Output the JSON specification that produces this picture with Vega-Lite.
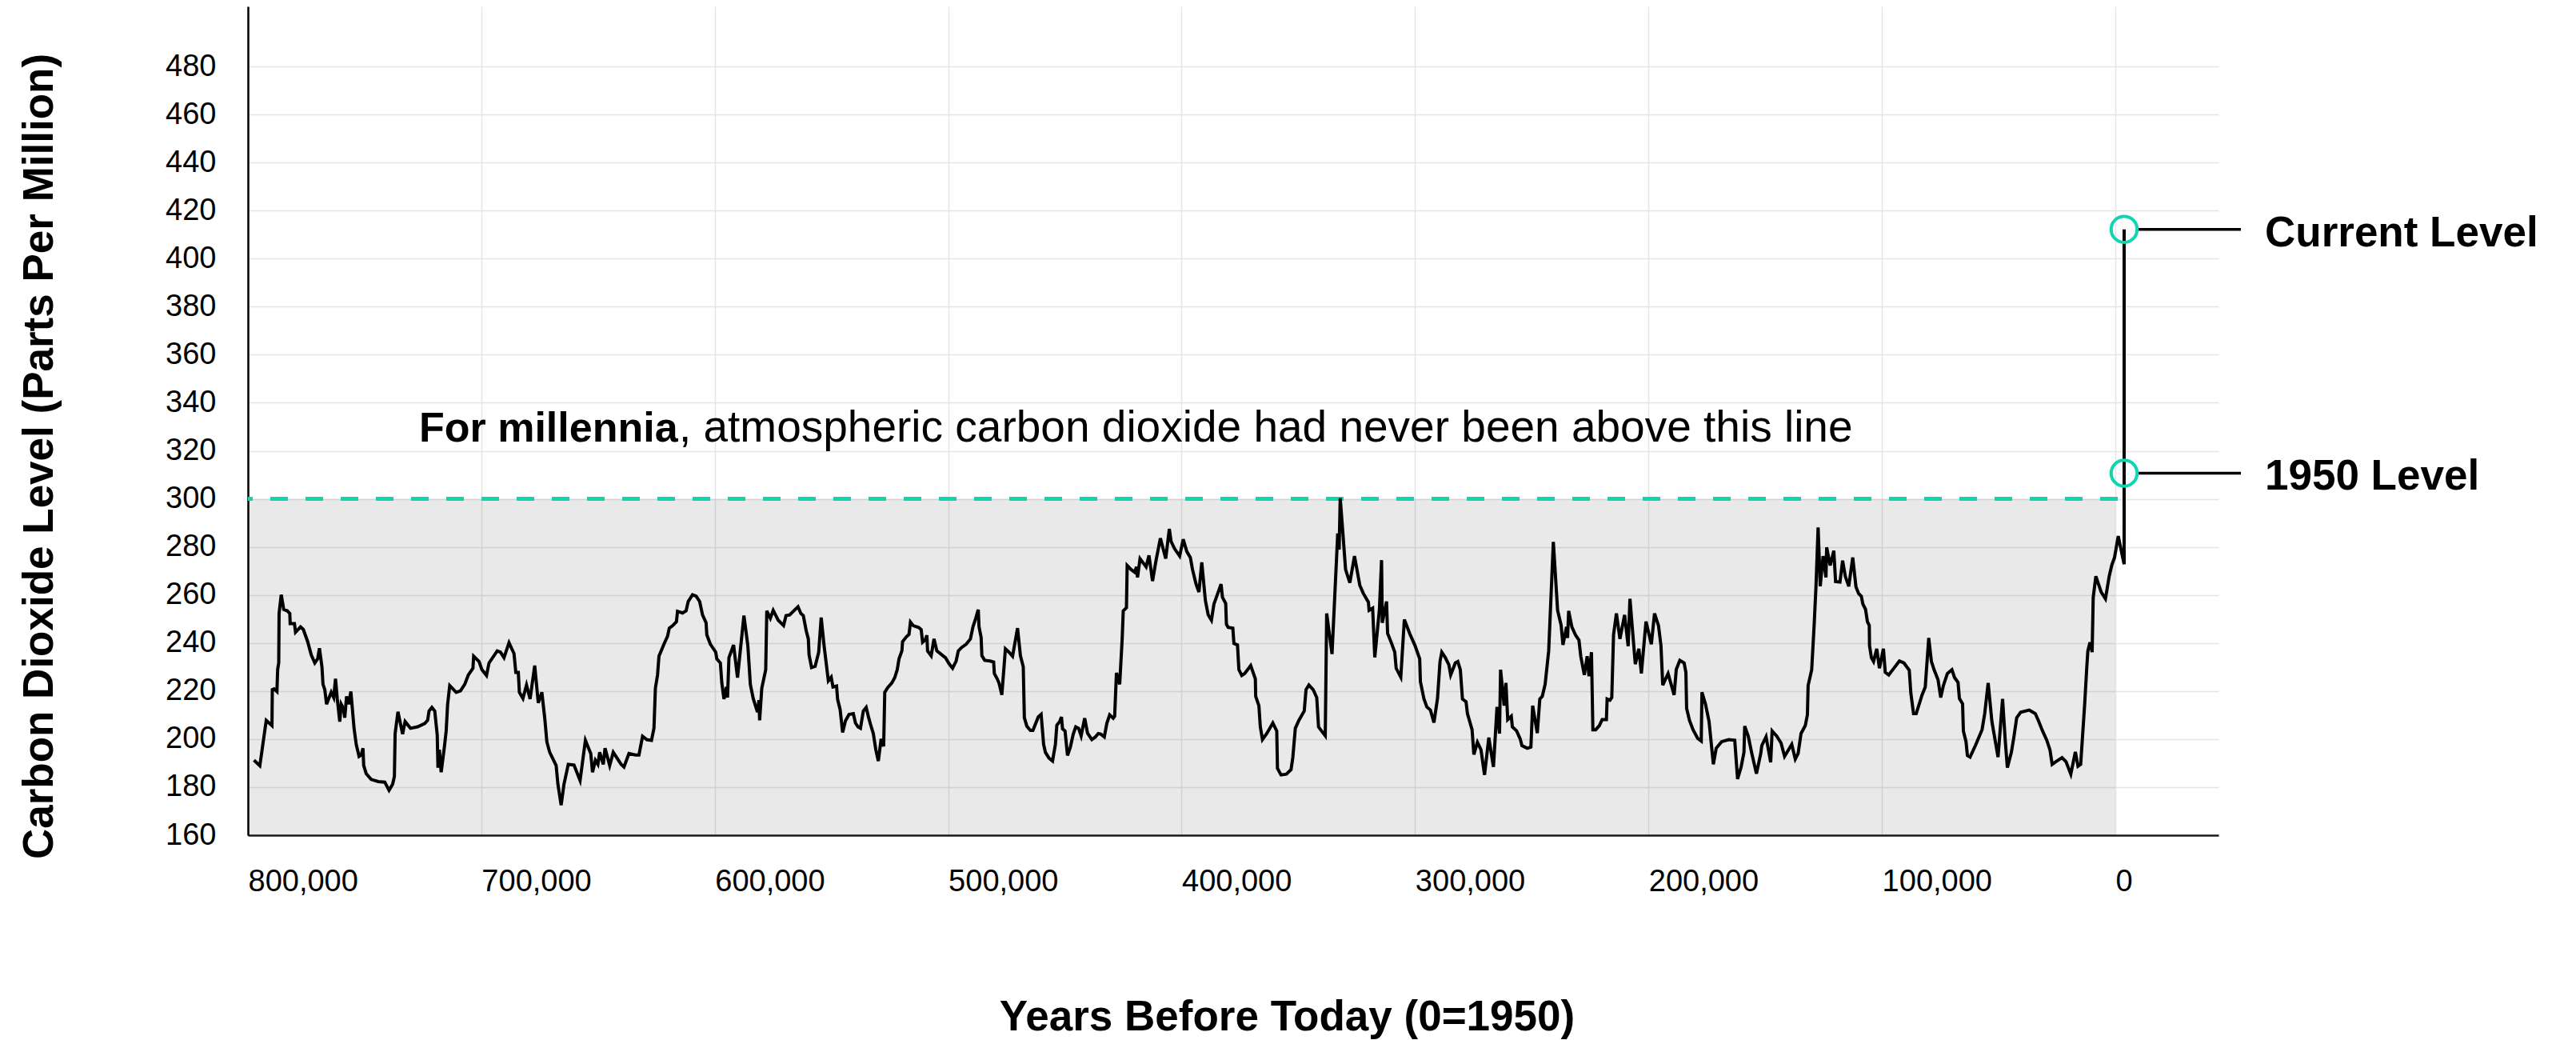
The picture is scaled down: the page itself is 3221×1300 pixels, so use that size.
{
  "$schema": "https://vega.github.io/schema/vega-lite/v6.json",
  "width": 2464,
  "height": 1036,
  "autosize": {"type": "none"},
  "padding": {"left": 310, "top": 8, "right": 447, "bottom": 256},
  "background": "white",
  "config": {"view": {"stroke": null}, "font": "Liberation Sans"},
  "datasets": {
    "ice_core": [
      {"year":797400,"ppm":191.2},{"year":794900,"ppm":188.9},{"year":792150,"ppm":207.8},{"year":789700,"ppm":205.6},{"year":789550,"ppm":220.6},{"year":788790,"ppm":220.9},{"year":787570,"ppm":219.8},{"year":787260,"ppm":229.0},{"year":786800,"ppm":231.7},{"year":786650,"ppm":252.3},{"year":785730,"ppm":260.1},{"year":784660,"ppm":254.0},{"year":783130,"ppm":253.4},{"year":782060,"ppm":252.3},{"year":781900,"ppm":248.1},{"year":780070,"ppm":248.1},{"year":779610,"ppm":244.5},{"year":777470,"ppm":246.7},{"year":776250,"ppm":245.6},{"year":774410,"ppm":240.6},{"year":772880,"ppm":235.1},{"year":771350,"ppm":231.7},{"year":770130,"ppm":233.4},{"year":769360,"ppm":237.8},{"year":768290,"ppm":230.1},{"year":767840,"ppm":222.8},{"year":767070,"ppm":220.6},{"year":766310,"ppm":214.5},{"year":764320,"ppm":219.5},{"year":763250,"ppm":217.3},{"year":762480,"ppm":225.1},{"year":761720,"ppm":216.7},{"year":760650,"ppm":207.3},{"year":760030,"ppm":214.5},{"year":759120,"ppm":212.8},{"year":758510,"ppm":208.9},{"year":757740,"ppm":217.8},{"year":756820,"ppm":214.5},{"year":755900,"ppm":219.8},{"year":754530,"ppm":204.5},{"year":753610,"ppm":197.8},{"year":752390,"ppm":192.8},{"year":751470,"ppm":193.4},{"year":750710,"ppm":196.2},{"year":750400,"ppm":189.0},{"year":749330,"ppm":185.6},{"year":747190,"ppm":183.2},{"year":744130,"ppm":182.3},{"year":741370,"ppm":182.1},{"year":739540,"ppm":178.7},{"year":738010,"ppm":181.2},{"year":737250,"ppm":184.5},{"year":736940,"ppm":202.3},{"year":735720,"ppm":211.4},{"year":733730,"ppm":202.1},{"year":732660,"ppm":207.3},{"year":730360,"ppm":204.5},{"year":727300,"ppm":205.1},{"year":724240,"ppm":206.5},{"year":723020,"ppm":207.8},{"year":722410,"ppm":211.7},{"year":721190,"ppm":213.2},{"year":719960,"ppm":211.7},{"year":718900,"ppm":201.7},{"year":718590,"ppm":188.1},{"year":717970,"ppm":195.6},{"year":717210,"ppm":186.2},{"year":715830,"ppm":196.7},{"year":715070,"ppm":203.4},{"year":714450,"ppm":214.5},{"year":713540,"ppm":222.3},{"year":710780,"ppm":219.5},{"year":708950,"ppm":220.1},{"year":707110,"ppm":222.8},{"year":705580,"ppm":226.7},{"year":703600,"ppm":229.5},{"year":703290,"ppm":234.5},{"year":701000,"ppm":232.3},{"year":699770,"ppm":228.9},{"year":697790,"ppm":226.5},{"year":696710,"ppm":231.7},{"year":693200,"ppm":236.7},{"year":691820,"ppm":236.2},{"year":690290,"ppm":233.9},{"year":688150,"ppm":240.1},{"year":686010,"ppm":235.6},{"year":685240,"ppm":227.8},{"year":684170,"ppm":227.8},{"year":683710,"ppm":219.5},{"year":682180,"ppm":216.9},{"year":680650,"ppm":222.5},{"year":679120,"ppm":216.7},{"year":677140,"ppm":230.6},{"year":675610,"ppm":215.1},{"year":674080,"ppm":219.5},{"year":672860,"ppm":208.9},{"year":671940,"ppm":198.9},{"year":670720,"ppm":194.5},{"year":667960,"ppm":189.0},{"year":667200,"ppm":181.2},{"year":665820,"ppm":172.5},{"year":664600,"ppm":181.2},{"year":662760,"ppm":189.5},{"year":660310,"ppm":189.2},{"year":657710,"ppm":182.8},{"year":655420,"ppm":199.5},{"year":653130,"ppm":194.0},{"year":652360,"ppm":186.2},{"year":651140,"ppm":191.2},{"year":650070,"ppm":189.5},{"year":649300,"ppm":194.5},{"year":647770,"ppm":189.5},{"year":647010,"ppm":196.2},{"year":645020,"ppm":189.0},{"year":643490,"ppm":194.5},{"year":640120,"ppm":189.5},{"year":638900,"ppm":188.4},{"year":636760,"ppm":194.0},{"year":634000,"ppm":193.4},{"year":632480,"ppm":193.4},{"year":630940,"ppm":201.2},{"year":629110,"ppm":199.8},{"year":627120,"ppm":199.5},{"year":626050,"ppm":204.5},{"year":625440,"ppm":221.2},{"year":624520,"ppm":226.7},{"year":623910,"ppm":234.5},{"year":621770,"ppm":239.5},{"year":620240,"ppm":242.8},{"year":619470,"ppm":246.2},{"year":617940,"ppm":247.3},{"year":616420,"ppm":248.9},{"year":615960,"ppm":253.2},{"year":613820,"ppm":252.5},{"year":612290,"ppm":253.4},{"year":611370,"ppm":257.3},{"year":609540,"ppm":260.1},{"year":608000,"ppm":259.5},{"year":606480,"ppm":257.3},{"year":605250,"ppm":251.7},{"year":603720,"ppm":248.4},{"year":603410,"ppm":243.4},{"year":601880,"ppm":239.5},{"year":599590,"ppm":236.2},{"year":599130,"ppm":233.4},{"year":597600,"ppm":231.7},{"year":596990,"ppm":223.4},{"year":596070,"ppm":216.7},{"year":595000,"ppm":221.7},{"year":594540,"ppm":217.3},{"year":593930,"ppm":233.9},{"year":591940,"ppm":239.2},{"year":590260,"ppm":225.6},{"year":587510,"ppm":251.4},{"year":585830,"ppm":238.9},{"year":584760,"ppm":222.8},{"year":583530,"ppm":216.9},{"year":581700,"ppm":211.2},{"year":581080,"ppm":216.2},{"year":580780,"ppm":207.8},{"year":579860,"ppm":221.2},{"year":578180,"ppm":228.9},{"year":577720,"ppm":253.4},{"year":576190,"ppm":250.3},{"year":574970,"ppm":253.6},{"year":572830,"ppm":249.5},{"year":570530,"ppm":247.3},{"year":569460,"ppm":251.4},{"year":567930,"ppm":251.7},
      {"year":564350,"ppm":255.1},{"year":563130,"ppm":252.3},{"year":562060,"ppm":251.4},{"year":560830,"ppm":245.1},{"year":559920,"ppm":241.7},{"year":559610,"ppm":235.1},{"year":558540,"ppm":229.8},{"year":557010,"ppm":230.3},{"year":555480,"ppm":236.2},{"year":554410,"ppm":250.6},{"year":553190,"ppm":239.0},{"year":551350,"ppm":224.3},{"year":550130,"ppm":225.8},{"year":549360,"ppm":221.7},{"year":547830,"ppm":222.1},{"year":547370,"ppm":216.5},{"year":546300,"ppm":212.3},{"year":545230,"ppm":202.8},{"year":544010,"ppm":207.6},{"year":542480,"ppm":210.3},{"year":540650,"ppm":210.6},{"year":539730,"ppm":206.7},{"year":538660,"ppm":205.1},{"year":537590,"ppm":204.5},{"year":536360,"ppm":211.7},{"year":535140,"ppm":213.2},{"year":534070,"ppm":208.9},{"year":533300,"ppm":206.2},{"year":532080,"ppm":202.3},{"year":531010,"ppm":195.6},{"year":529940,"ppm":190.9},{"year":528720,"ppm":200.1},{"year":527650,"ppm":197.0},{"year":527180,"ppm":219.5},{"year":525960,"ppm":221.4},{"year":524130,"ppm":223.4},{"year":522900,"ppm":225.6},{"year":521830,"ppm":228.9},{"year":521070,"ppm":233.4},{"year":519840,"ppm":236.7},{"year":519540,"ppm":240.6},{"year":518010,"ppm":242.5},{"year":516790,"ppm":243.6},{"year":516170,"ppm":248.7},{"year":514950,"ppm":247.2},{"year":512660,"ppm":246.5},{"year":511580,"ppm":245.6},{"year":510970,"ppm":240.3},{"year":509900,"ppm":241.2},{"year":509140,"ppm":243.2},{"year":508830,"ppm":236.7},{"year":507300,"ppm":234.7},{"year":506080,"ppm":241.7},{"year":504860,"ppm":236.7},{"year":503020,"ppm":235.3},{"year":501180,"ppm":233.9},{"year":499660,"ppm":231.4},{"year":498130,"ppm":229.5},{"year":496600,"ppm":232.5},{"year":495680,"ppm":236.7},{"year":494300,"ppm":238.1},{"year":492310,"ppm":239.5},{"year":490480,"ppm":241.7},{"year":489410,"ppm":246.7},{"year":488190,"ppm":250.3},{"year":487120,"ppm":253.9},{"year":486810,"ppm":246.9},{"year":485890,"ppm":242.3},{"year":485580,"ppm":234.7},{"year":484360,"ppm":232.8},{"year":482070,"ppm":232.5},{"year":480540,"ppm":232.1},{"year":480230,"ppm":227.3},{"year":479010,"ppm":225.1},{"year":478250,"ppm":223.4},{"year":477020,"ppm":218.4},{"year":475490,"ppm":237.6},{"year":473960,"ppm":236.2},{"year":472430,"ppm":234.5},{"year":470290,"ppm":246.2},{"year":469060,"ppm":234.7},{"year":467840,"ppm":230.1},{"year":467380,"ppm":208.9},{"year":466310,"ppm":205.4},{"year":464780,"ppm":203.6},{"year":463710,"ppm":203.6},{"year":461420,"ppm":209.2},{"year":460190,"ppm":210.3},{"year":459120,"ppm":197.8},{"year":458360,"ppm":194.5},{"year":456830,"ppm":192.1},{"year":455300,"ppm":190.9},{"year":454080,"ppm":197.8},{"year":453460,"ppm":205.8},{"year":452240,"ppm":207.3},{"year":451480,"ppm":209.2},{"year":451020,"ppm":204.3},{"year":449950,"ppm":203.4},{"year":448880,"ppm":193.2},{"year":447650,"ppm":196.7},{"year":446430,"ppm":202.1},{"year":445360,"ppm":205.1},{"year":444130,"ppm":204.5},{"year":443060,"ppm":201.4},{"year":441530,"ppm":208.7},{"year":440310,"ppm":202.5},{"year":438470,"ppm":199.8},{"year":436940,"ppm":200.9},{"year":435720,"ppm":202.3},{"year":434650,"ppm":202.1},{"year":433120,"ppm":200.9},{"year":432050,"ppm":206.5},{"year":430830,"ppm":210.1},{"year":429300,"ppm":208.7},{"year":428690,"ppm":209.5},{"year":427920,"ppm":227.6},{"year":426540,"ppm":222.8},{"year":425470,"ppm":241.7},{"year":425010,"ppm":253.4},{"year":423640,"ppm":254.7},{"year":423330,"ppm":272.3},{"year":421650,"ppm":270.6},{"year":420120,"ppm":269.5},{"year":419350,"ppm":271.7},{"year":418890,"ppm":267.3},{"year":417820,"ppm":275.1},{"year":415830,"ppm":272.5},{"year":415220,"ppm":271.7},{"year":413990,"ppm":276.5},{"year":412470,"ppm":265.8},{"year":410940,"ppm":274.5},{"year":409100,"ppm":283.6},{"year":406810,"ppm":275.1},{"year":405280,"ppm":287.5},{"year":404520,"ppm":282.3},{"year":402990,"ppm":279.2},{"year":400850,"ppm":276.2},{"year":399320,"ppm":283.2},{"year":397790,"ppm":278.1},{"year":396260,"ppm":275.6},{"year":395340,"ppm":270.6},{"year":393810,"ppm":264.5},{"year":392590,"ppm":261.2},{"year":391370,"ppm":273.6},{"year":389840,"ppm":257.8},{"year":388620,"ppm":251.7},{"year":387240,"ppm":249.5},{"year":386170,"ppm":256.2},{"year":383110,"ppm":264.5},{"year":382500,"ppm":259.0},{"year":381120,"ppm":256.5},{"year":380810,"ppm":247.8},{"year":380050,"ppm":246.5},{"year":378060,"ppm":246.2},{"year":377600,"ppm":239.8},{"year":376070,"ppm":239.2},{"year":375460,"ppm":228.9},{"year":374240,"ppm":226.5},{"year":373010,"ppm":227.3},{"year":370410,"ppm":230.6},{"year":368420,"ppm":225.1},{"year":368270,"ppm":217.8},{"year":366900,"ppm":213.9},{"year":366290,"ppm":205.1},{"year":365370,"ppm":199.8},{"year":363530,"ppm":202.3},{"year":360930,"ppm":206.7},{"year":359250,"ppm":203.4},{"year":358940,"ppm":187.8},{"year":357410,"ppm":185.1},{"year":355120,"ppm":185.4},{"year":353130,"ppm":187.3},{"year":352370,"ppm":192.3},{"year":351290,"ppm":204.5},{"year":349770,"ppm":207.8},{"year":347470,"ppm":211.7},{"year":346710,"ppm":220.6},{"year":345490,"ppm":222.5},{"year":343650,"ppm":220.6},{"year":342120,"ppm":217.3},{"year":341350,"ppm":205.1},
      {"year":340460,"ppm":203.9},{"year":338470,"ppm":201.4},{"year":337860,"ppm":252.3},{"year":335570,"ppm":235.4},{"year":333130,"ppm":285.6},{"year":332520,"ppm":278.9},{"year":332060,"ppm":300.3},{"year":330990,"ppm":286.7},{"year":329770,"ppm":270.6},{"year":327940,"ppm":265.1},{"year":325950,"ppm":276.2},{"year":323660,"ppm":264.0},{"year":322140,"ppm":260.6},{"year":319990,"ppm":257.0},{"year":319690,"ppm":253.6},{"year":318170,"ppm":254.5},{"year":317250,"ppm":234.0},{"year":315270,"ppm":254.0},{"year":314350,"ppm":274.5},{"year":314050,"ppm":248.4},{"year":312210,"ppm":257.3},{"year":311760,"ppm":244.0},{"year":310230,"ppm":240.3},{"year":308700,"ppm":236.2},{"year":308090,"ppm":229.5},{"year":306110,"ppm":225.8},{"year":304580,"ppm":249.8},{"year":302290,"ppm":243.9},{"year":300000,"ppm":238.9},{"year":298010,"ppm":233.4},{"year":297710,"ppm":223.9},{"year":296180,"ppm":216.7},{"year":294960,"ppm":213.4},{"year":293430,"ppm":212.1},{"year":291910,"ppm":206.9},{"year":290380,"ppm":216.9},{"year":289310,"ppm":232.3},{"year":288550,"ppm":236.2},{"year":287020,"ppm":233.9},{"year":285500,"ppm":230.9},{"year":284730,"ppm":226.7},{"year":282750,"ppm":231.7},{"year":281680,"ppm":232.3},{"year":280610,"ppm":228.9},{"year":279690,"ppm":216.7},{"year":278170,"ppm":215.6},{"year":277550,"ppm":210.6},{"year":275570,"ppm":203.9},{"year":274810,"ppm":193.6},{"year":273280,"ppm":198.7},{"year":271760,"ppm":195.6},{"year":270230,"ppm":185.1},{"year":268400,"ppm":200.6},{"year":266410,"ppm":188.4},{"year":264890,"ppm":213.4},{"year":263820,"ppm":202.3},{"year":263360,"ppm":228.9},{"year":261830,"ppm":213.9},{"year":261070,"ppm":223.4},{"year":260300,"ppm":208.1},{"year":258780,"ppm":209.5},{"year":258320,"ppm":205.1},{"year":256490,"ppm":203.4},{"year":254960,"ppm":200.1},{"year":254200,"ppm":197.3},{"year":251910,"ppm":196.2},{"year":250380,"ppm":196.7},{"year":249620,"ppm":213.9},{"year":247630,"ppm":202.5},{"year":246560,"ppm":216.7},{"year":245500,"ppm":217.8},{"year":244280,"ppm":222.8},{"year":242750,"ppm":236.7},{"year":240760,"ppm":282.1},{"year":238930,"ppm":253.6},{"year":237410,"ppm":247.3},{"year":236640,"ppm":239.2},{"year":235110,"ppm":246.7},{"year":234660,"ppm":242.1},{"year":234200,"ppm":253.4},{"year":232830,"ppm":246.7},{"year":231300,"ppm":243.4},{"year":229780,"ppm":241.2},{"year":229010,"ppm":234.5},{"year":227490,"ppm":226.7},{"year":226270,"ppm":234.5},{"year":225500,"ppm":226.2},{"year":224430,"ppm":236.2},{"year":223820,"ppm":203.9},{"year":222600,"ppm":203.9},{"year":221070,"ppm":205.6},{"year":219850,"ppm":208.1},{"year":218020,"ppm":208.1},{"year":217710,"ppm":216.7},{"year":216490,"ppm":216.2},{"year":215730,"ppm":217.3},{"year":214970,"ppm":243.4},{"year":213740,"ppm":252.3},{"year":212220,"ppm":241.7},{"year":210230,"ppm":251.7},{"year":208700,"ppm":238.7},{"year":207940,"ppm":258.4},{"year":205650,"ppm":231.2},{"year":204120,"ppm":237.6},{"year":203050,"ppm":227.3},{"year":201070,"ppm":248.9},{"year":198780,"ppm":239.5},{"year":197400,"ppm":252.3},{"year":195720,"ppm":247.3},{"year":194650,"ppm":238.9},{"year":193890,"ppm":222.5},{"year":191600,"ppm":227.3},{"year":189010,"ppm":218.4},{"year":188090,"ppm":229.0},{"year":186560,"ppm":232.8},{"year":184730,"ppm":231.7},{"year":183970,"ppm":227.8},{"year":183660,"ppm":212.8},{"year":182440,"ppm":207.8},{"year":180910,"ppm":203.9},{"year":178930,"ppm":200.3},{"year":177400,"ppm":199.2},{"year":177100,"ppm":219.5},{"year":175570,"ppm":214.5},{"year":174040,"ppm":207.3},{"year":172210,"ppm":189.5},{"year":170990,"ppm":196.2},{"year":168700,"ppm":198.9},{"year":165650,"ppm":199.8},{"year":163050,"ppm":199.5},{"year":161830,"ppm":183.4},{"year":160310,"ppm":188.4},{"year":159090,"ppm":194.5},{"year":158780,"ppm":205.4},{"year":157260,"ppm":201.2},{"year":155730,"ppm":194.0},{"year":153750,"ppm":185.6},{"year":151910,"ppm":194.0},{"year":151460,"ppm":197.3},{"year":149630,"ppm":201.0},{"year":147650,"ppm":190.3},{"year":147030,"ppm":203.4},{"year":145040,"ppm":201.2},{"year":143210,"ppm":198.4},{"year":141690,"ppm":192.8},{"year":138630,"ppm":197.8},{"year":137110,"ppm":191.7},{"year":135890,"ppm":194.0},{"year":134660,"ppm":202.3},{"year":132830,"ppm":205.6},{"year":131920,"ppm":210.1},{"year":131610,"ppm":222.3},{"year":130080,"ppm":228.9},{"year":129010,"ppm":247.8},{"year":128250,"ppm":263.4},{"year":127330,"ppm":288.1},{"year":126420,"ppm":263.6},{"year":125200,"ppm":276.2},{"year":123970,"ppm":267.3},{"year":123670,"ppm":279.8},{"year":122140,"ppm":272.3},{"year":120610,"ppm":278.4},{"year":119850,"ppm":265.6},
      {"year":117970,"ppm":265.4},{"year":116830,"ppm":274.3},{"year":115690,"ppm":267.8},{"year":114200,"ppm":263.6},{"year":112490,"ppm":275.6},{"year":111120,"ppm":263.4},{"year":109980,"ppm":260.6},{"year":108830,"ppm":259.5},{"year":108150,"ppm":256.2},{"year":107010,"ppm":254.0},{"year":106210,"ppm":248.9},{"year":105410,"ppm":247.3},{"year":105300,"ppm":238.9},{"year":104500,"ppm":233.9},{"year":103580,"ppm":232.3},{"year":102210,"ppm":237.6},{"year":101070,"ppm":229.5},{"year":99360,"ppm":237.6},{"year":98560,"ppm":227.8},{"year":97070,"ppm":226.7},{"year":95360,"ppm":228.9},{"year":92500,"ppm":232.5},{"year":90560,"ppm":231.7},{"year":88280,"ppm":228.7},{"year":87590,"ppm":219.0},{"year":86450,"ppm":210.6},{"year":85310,"ppm":210.6},{"year":82800,"ppm":218.4},{"year":81430,"ppm":221.7},{"year":79940,"ppm":242.1},{"year":78800,"ppm":232.3},{"year":77660,"ppm":228.9},{"year":75950,"ppm":224.7},{"year":74800,"ppm":217.3},{"year":73660,"ppm":222.3},{"year":71950,"ppm":227.3},{"year":70010,"ppm":228.9},{"year":68870,"ppm":225.6},{"year":67380,"ppm":223.6},{"year":66810,"ppm":216.9},{"year":65440,"ppm":214.7},{"year":65100,"ppm":203.4},{"year":63960,"ppm":198.9},{"year":63380,"ppm":193.2},{"year":62240,"ppm":192.5},{"year":59960,"ppm":197.3},{"year":57100,"ppm":203.9},{"year":55960,"ppm":210.6},{"year":54480,"ppm":223.4},{"year":52880,"ppm":207.3},{"year":50250,"ppm":192.5},{"year":48310,"ppm":216.7},{"year":47170,"ppm":199.5},{"year":46250,"ppm":188.1},{"year":44540,"ppm":194.5},{"year":43400,"ppm":201.2},{"year":42260,"ppm":208.9},{"year":40550,"ppm":211.2},{"year":36890,"ppm":212.1},{"year":34270,"ppm":210.6},{"year":32780,"ppm":207.3},{"year":31180,"ppm":203.4},{"year":29350,"ppm":199.5},{"year":27980,"ppm":195.4},{"year":27070,"ppm":189.5},{"year":25470,"ppm":190.6},{"year":22840,"ppm":192.3},{"year":21130,"ppm":190.6},{"year":19080,"ppm":185.4},{"year":17130,"ppm":194.7},{"year":15990,"ppm":188.7},{"year":14850,"ppm":189.5},{"year":14050,"ppm":201.2},{"year":13140,"ppm":214.5},{"year":12220,"ppm":230.1},{"year":11770,"ppm":236.7},{"year":10850,"ppm":240.3},{"year":9940,"ppm":236.2},{"year":9480,"ppm":258.9},{"year":8340,"ppm":267.8},{"year":6060,"ppm":261.2},{"year":4230,"ppm":258.4},{"year":2630,"ppm":267.8},{"year":1490,"ppm":272.5},{"year":350,"ppm":275.6},{"year":-1250,"ppm":284.5},{"year":-3760,"ppm":272.8},{"year":-3770,"ppm":412.2}
    ],
    "band": [{"year": 800000, "year_end": 0, "ppm": 160, "ppm_top": 300}],
    "threshold": [{"year": 800000, "year_end": -3770, "ppm": 300}],
    "note": [{"year": 726700, "ppm": 324, "lead": "For millennia", "rest": ", atmospheric carbon dioxide had never been above this line"}],
    "levels": [
      {"level": "Current Level", "year": -3770, "ppm": 412.2},
      {"level": "1950 Level", "year": -3770, "ppm": 310.7}
    ]
  },
  "encoding": {
    "x": {
      "field": "year",
      "type": "quantitative",
      "scale": {"domain": [-44200, 800000], "reverse": true, "nice": false, "zero": false},
      "axis": {
        "title": "Years Before Today (0=1950)",
        "values": [800000, 700000, 600000, 500000, 400000, 300000, 200000, 100000, 0],
        "format": ",d",
        "labelAlign": "left",
        "labelBaseline": "top",
        "labelFlush": false,
        "labelOverlap": false,
        "labelPadding": 39,
        "labelFontSize": 38,
        "labelFont": "Liberation Sans",
        "labelColor": "#000000",
        "ticks": false,
        "tickSize": 0,
        "domainColor": "#1a1a1a",
        "domainWidth": 2.5,
        "grid": true,
        "gridColor": "#e5e5e5",
        "gridWidth": 1.5,
        "titleFont": "Liberation Sans",
        "titleFontSize": 53,
        "titleFontWeight": "bold",
        "titleColor": "#000000",
        "titleX": 1299,
        "titleY": 243,
        "titleAlign": "center",
        "titleBaseline": "alphabetic"
      }
    },
    "y": {
      "field": "ppm",
      "type": "quantitative",
      "scale": {"domain": [160, 505], "nice": false, "zero": false},
      "axis": {
        "title": "Carbon Dioxide Level (Parts Per Million)",
        "values": [160, 180, 200, 220, 240, 260, 280, 300, 320, 340, 360, 380, 400, 420, 440, 460, 480],
        "labelPadding": 40,
        "labelFontSize": 38,
        "labelFont": "Liberation Sans",
        "labelColor": "#000000",
        "labelOverlap": false,
        "ticks": false,
        "tickSize": 0,
        "domainColor": "#000000",
        "domainWidth": 2.5,
        "grid": true,
        "gridColor": "#e5e5e5",
        "gridWidth": 1.5,
        "titleFont": "Liberation Sans",
        "titleFontSize": 53,
        "titleFontWeight": "bold",
        "titleColor": "#000000",
        "titleAngle": -90,
        "titleX": -245,
        "titleY": 562,
        "titleAlign": "center",
        "titleBaseline": "alphabetic"
      }
    }
  },
  "layer": [
    {
      "data": {"name": "band"},
      "mark": {"type": "rect", "color": "#000000", "fillOpacity": 0.086, "strokeWidth": 0},
      "encoding": {"x2": {"field": "year_end"}, "y2": {"field": "ppm_top"}}
    },
    {
      "data": {"name": "threshold"},
      "mark": {"type": "rule", "color": "#10d5b0", "strokeWidth": 5, "strokeDash": [22, 22], "strokeDashOffset": 16},
      "encoding": {"x2": {"field": "year_end"}}
    },
    {
      "data": {"name": "ice_core"},
      "mark": {"type": "line", "color": "#000000", "strokeWidth": 4, "interpolate": "linear"},
      "encoding": {}
    },
    {
      "data": {"name": "levels"},
      "mark": {"type": "rule", "color": "#000000", "strokeWidth": 3.5, "xOffset": 18, "x2Offset": 146},
      "encoding": {"x2": {"field": "year"}}
    },
    {
      "data": {"name": "levels"},
      "mark": {"type": "point", "shape": "circle", "filled": false, "size": 1056, "stroke": "#10d5b0", "strokeWidth": 4, "opacity": 1}
    },
    {
      "data": {"name": "levels"},
      "mark": {"type": "text", "align": "left", "baseline": "alphabetic", "dx": 176, "dy": 21, "font": "Liberation Sans", "fontSize": 53, "fontWeight": "bold", "color": "#000000"},
      "encoding": {"text": {"field": "level"}}
    },
    {
      "data": {"name": "note"},
      "mark": {"type": "text", "align": "left", "baseline": "alphabetic", "font": "Liberation Sans", "fontSize": 52, "fontWeight": "bold", "color": "#000000"},
      "encoding": {"text": {"field": "lead"}}
    },
    {
      "data": {"name": "note"},
      "mark": {"type": "text", "align": "left", "baseline": "alphabetic", "dx": 325, "font": "Liberation Sans", "fontSize": 55, "fontWeight": "normal", "color": "#000000"},
      "encoding": {"text": {"field": "rest"}}
    }
  ]
}
